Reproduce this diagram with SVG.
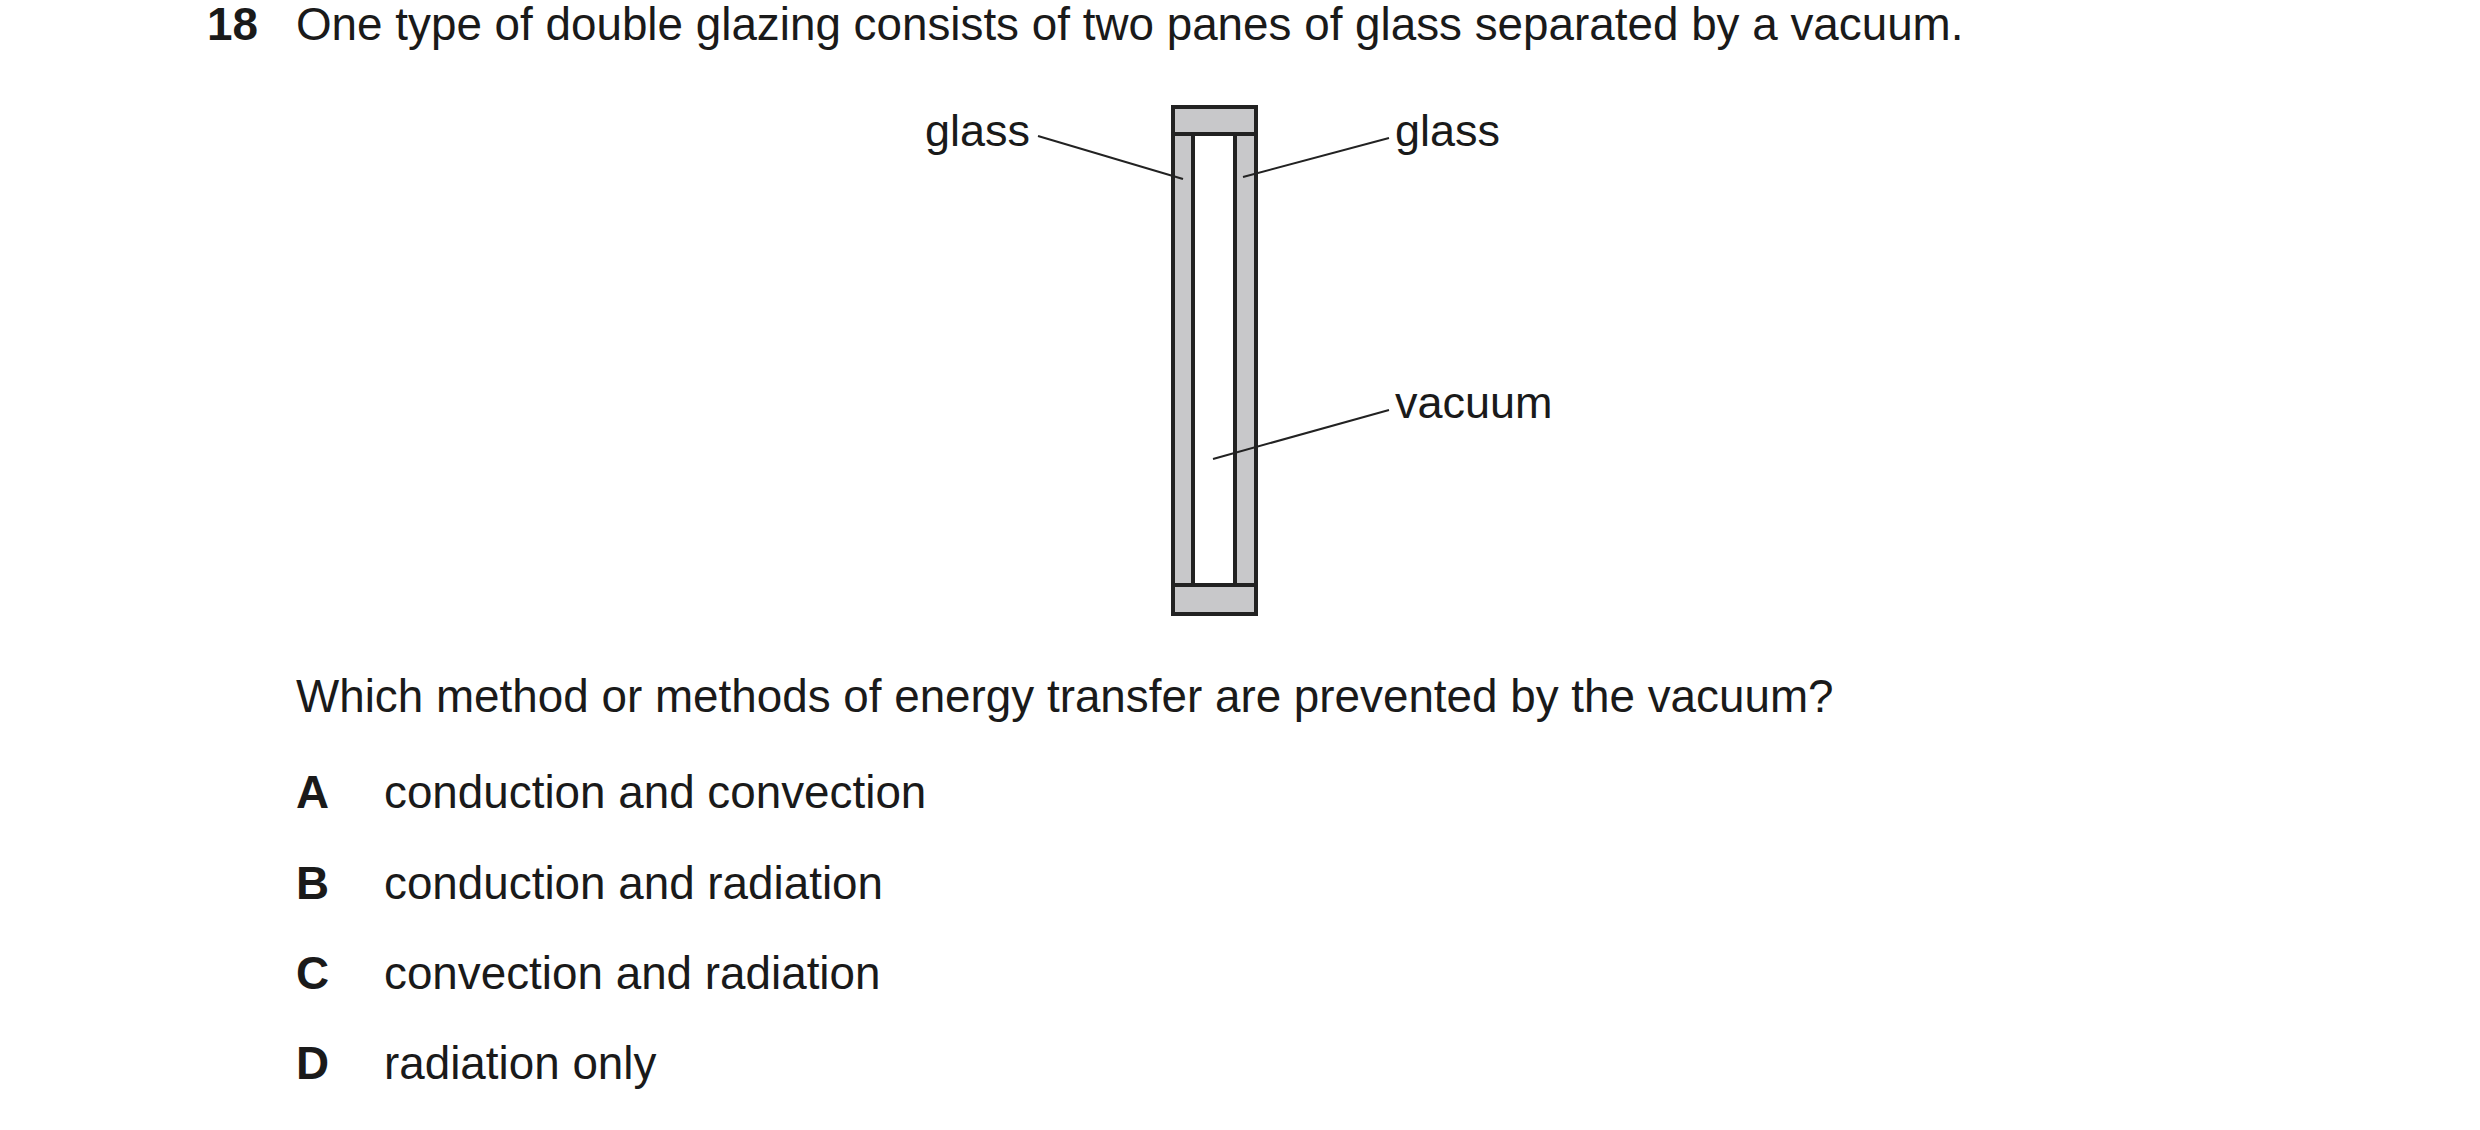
<svg xmlns="http://www.w3.org/2000/svg" width="2480" height="1130" viewBox="0 0 2480 1130">
<style>
text{font-family:"Liberation Sans",Arial,sans-serif;font-size:45.8px;fill:#1a1a1a}
.s{font-size:45px}
.b{font-weight:bold}
.g{fill:#c8c8ca;stroke:#222;stroke-width:4}
.l{stroke:#222;stroke-width:2;fill:none}
</style>
<rect width="2480" height="1130" fill="#fff"/>
<text class="b" x="207" y="40">18</text>
<text x="296" y="40">One type of double glazing consists of two panes of glass separated by a vacuum.</text>
<g id="pane">
<rect class="g" x="1173" y="107" width="83" height="507"/>
<rect x="1193" y="134" width="42" height="451" fill="#fff" stroke="#222" stroke-width="4"/>
<line x1="1173" y1="134" x2="1256" y2="134" stroke="#222" stroke-width="4"/>
<line x1="1173" y1="585" x2="1256" y2="585" stroke="#222" stroke-width="4"/>
</g>
<g id="labels">
<text class="s" x="1030" y="146" text-anchor="end">glass</text>
<text class="s" x="1395" y="146">glass</text>
<text class="s" x="1395" y="418">vacuum</text>
</g>
<g id="connectors">
<line class="l" x1="1038" y1="136" x2="1183" y2="179"/>
<line class="l" x1="1389" y1="138" x2="1243" y2="177"/>
<line class="l" x1="1389" y1="410" x2="1213" y2="459"/>
</g>
<text x="296" y="712">Which method or methods of energy transfer are prevented by the vacuum?</text>
<text class="b" x="296" y="808">A</text><text x="384" y="808">conduction and convection</text>
<text class="b" x="296" y="899">B</text><text x="384" y="899">conduction and radiation</text>
<text class="b" x="296" y="989">C</text><text x="384" y="989">convection and radiation</text>
<text class="b" x="296" y="1079">D</text><text x="384" y="1079">radiation only</text>
</svg>
